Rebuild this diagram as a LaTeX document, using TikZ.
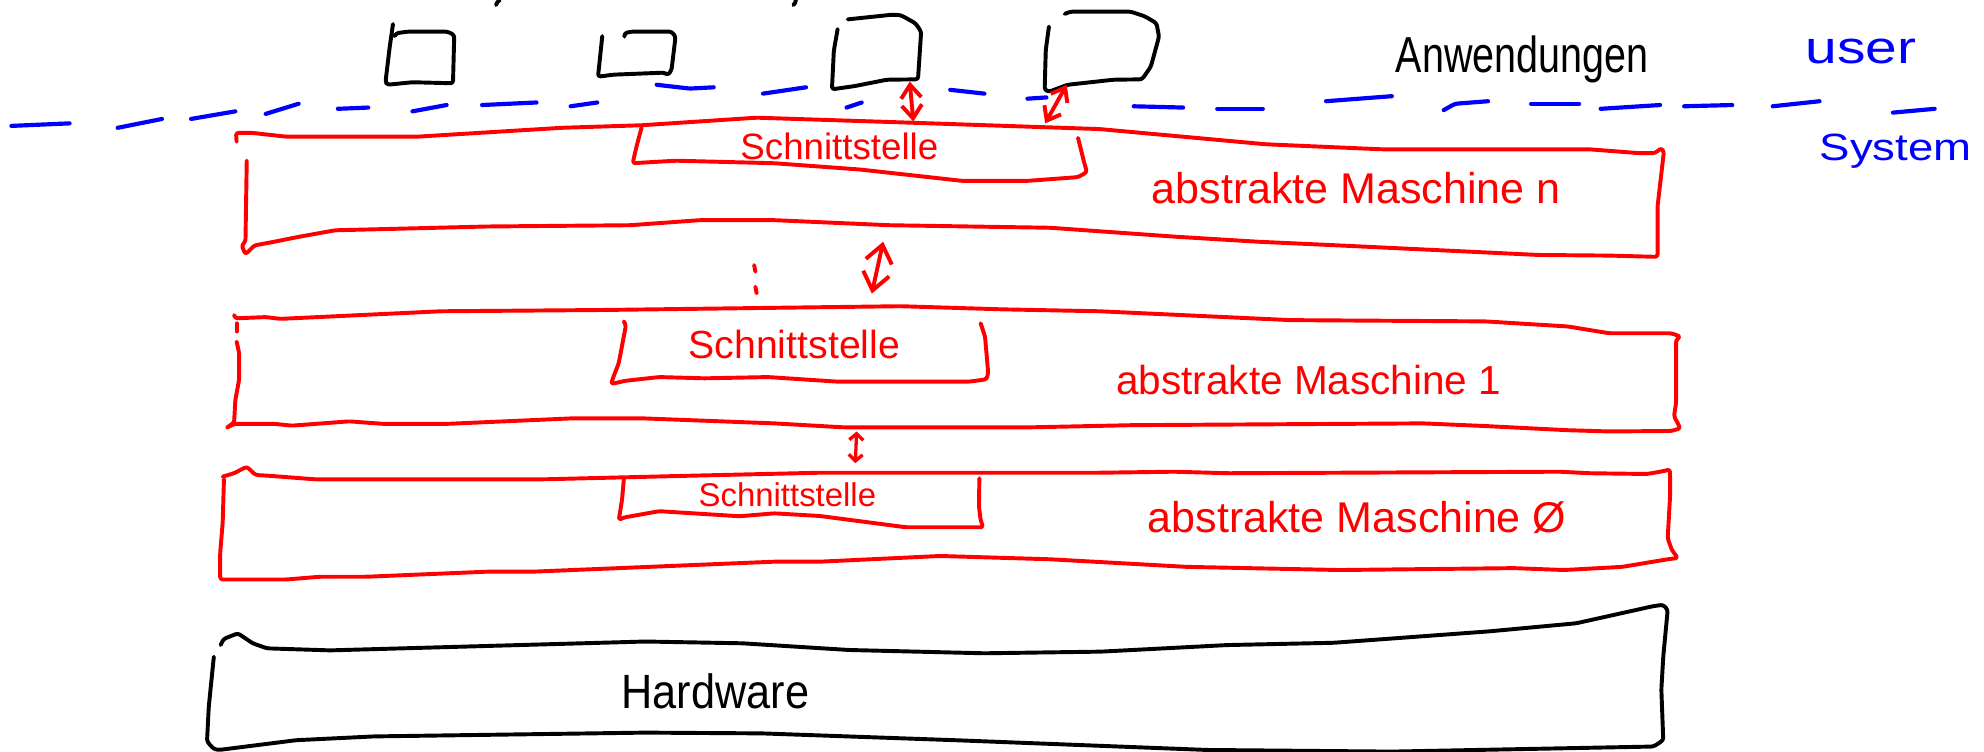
\documentclass[tikz,border=0pt]{standalone}
\usepackage{fontspec}
\setmainfont{Liberation Sans}
\usetikzlibrary{arrows.meta}
\newcommand\hwtxt[3]{\scalebox{#2}[1]{\fontsize{#1}{#1}\selectfont #3}}
\begin{document}
\begin{tikzpicture}[x=1pt,y=-1pt,line cap=round,line join=round,
  pen/.style={line width=3.1pt, rounded corners=2pt},
  redpen/.style={pen,draw=red},
  blackpen/.style={pen,draw=black},
  bluepen/.style={pen,draw=blue,line width=3.3pt},
  dblarrow/.style={line width=3.1pt,draw=red,sharp corners,
    {Straight Barb[length=#1*0.65pt,width=#1pt]}-{Straight Barb[length=#1*0.65pt,width=#1pt]}},
  smallarrow/.style={line width=2.6pt,draw=red,sharp corners,
    {Straight Barb[length=5pt,width=11pt]}-{Straight Barb[length=5pt,width=11pt]}},
  hand/.style={inner sep=0pt,anchor=base west},
  redhand/.style={hand,text=red},
  bluehand/.style={hand,text=blue},
  blackhand/.style={hand,text=black}]
\fill[white] (0,0) rectangle (1568,594.3);
\path[use as bounding box] (0,0) rectangle (1568,594.3);

% parenthesis fragments at the top edge
\draw[blackpen] (395,0) to[bend right=20] (392,4);
\draw[blackpen] (629,0) to[bend left=20] (627,4);

% application windows
\draw[blackpen] (310.6,19) -- (308,37) -- (304.7,64.5) -- (306,67) -- (326,65) -- (358,65.8) -- (359,27.7) -- (353.7,25) -- (322,25) -- (313,26.3) -- (312,28.5);
\draw[blackpen] (476,28.5) -- (472.6,60.6) -- (485,59) -- (525,57.4) -- (528,59.3) -- (530.7,55.3) -- (533.9,29) -- (530.7,25) -- (498.7,25) -- (493.5,26.3) -- (493.5,29);
\draw[blackpen] (662,23) -- (659,40) -- (657.5,70.6) -- (675.7,68) -- (700.8,63) -- (725.5,62.7) -- (728,25) -- (723.5,18.4) -- (712,12) -- (705.4,11.6) -- (670,15.3);
\draw[blackpen] (829,21) -- (826.5,39.5) -- (825.6,71) -- (829,72.5) -- (843.7,67) -- (880,63) -- (902.6,62.7) -- (909.5,52.7) -- (916,29) -- (914,18.4) -- (905,13) -- (893.6,9.2) -- (846,9.2) -- (841.5,11);

% user / system border
\foreach \a/\b/\c/\d in {9/99.5/55/97.5, 93/101/128/94, 151/94/186/88, 210/90/236/82,
  267/86/291/85, 326/88/353/83, 381/83/424/81, 451/84/472/81, 603/74/637/69,
  669/85/681/81, 751/71/778/74, 812/78/827/77, 896/84/935/85, 962/86/998/86,
  1048/80/1100/76, 1210/82/1248/82, 1265/86/1312/83, 1331/84/1369/83,
  1401/84/1438/80, 1496/89/1529/86}
  \draw[bluepen] (\a,\b) -- (\c,\d);
\draw[bluepen] (519,67) -- (545,70) -- (564,69);
\draw[bluepen] (1141,87) -- (1150,82) -- (1176,80);

% abstract machine n
\draw[redpen] (187,112) -- (186.5,105) -- (199,105) -- (226,108) -- (330,108) -- (444,101) -- (507,99) -- (598,93) -- (721,97) -- (869,102) -- (1000,114) -- (1092,118) -- (1256,118) -- (1295,121) -- (1308,121) -- (1313,117) -- (1315,120) -- (1311.5,150) -- (1310,163) -- (1310,203) -- (1272,202) -- (1216,201.5) -- (1059,194) -- (993.5,191) -- (928,187) -- (830,180) -- (703,178) -- (612,174) -- (553,174) -- (498,178) -- (385,179) -- (265,182) -- (237,187) -- (217,191) -- (201,194) -- (194,201) -- (191,194) -- (194,191) -- (195,127);
\draw[redpen] (507,101) -- (503,116) -- (500,129) -- (534,127) -- (612,129) -- (680,134) -- (716,138) -- (761,143) -- (811,143) -- (852,140) -- (859,136) -- (857,129) -- (852,109);

% abstract machine 1
\draw[redpen] (187,262) -- (187,255.5);
\draw[redpen] (185,249) -- (186,251.6) -- (210,250.6) -- (221.6,252) -- (285,249) -- (348.5,246) -- (475.6,245) -- (711.6,242) -- (793,244.5) -- (869,246) -- (1020,253) -- (1173.8,254) -- (1239,258) -- (1272,263.4) -- (1321,263.4) -- (1328,266) -- (1324.6,268.7) -- (1324.6,318.6) -- (1323,329) -- (1326,334.6) -- (1328,338.5) -- (1321,340.6) -- (1272,341) -- (1239,340) -- (1173.8,336.7) -- (1124.6,334.6) -- (895.5,336) -- (815.6,337.7) -- (666,337.7) -- (612,334.6) -- (507,330.6) -- (453,330.6) -- (353,335) -- (303,335) -- (276,333) -- (230.6,336.4) -- (217,335) -- (185,335) -- (178.5,338.5) -- (185,334) -- (186,316) -- (189,300) -- (189,279) -- (187,270);
\draw[redpen] (493,254) -- (494.7,257) -- (489,287) -- (484,300) -- (483,303.5) -- (493.8,301) -- (521,298) -- (557,299) -- (607,298) -- (661.5,301.6) -- (766,301.6) -- (779.6,299.8) -- (781,295) -- (778.5,266) -- (775,255.5);

% abstract machine 0
\draw[redpen] (176,376.7) -- (185,374) -- (195,368.8) -- (202,375.4) -- (212.6,376) -- (248.8,378.8) -- (430,378.8) -- (543.7,376) -- (648,373.6) -- (869,373.6) -- (928,372.8) -- (970.6,374) -- (1233,372.8) -- (1256,374) -- (1301.7,374.6) -- (1314.8,372.3) -- (1319.8,371) -- (1320,390) -- (1318,425.4) -- (1321.3,434.7) -- (1326,441) -- (1318,442) -- (1282,448) -- (1236,450.5) -- (1196.6,449) -- (1059,450.5) -- (938,448) -- (830,442) -- (743,439.4) -- (648,443.9) -- (612,443.9) -- (421,451.8) -- (385,451.8) -- (289.7,455.8) -- (253,455.8) -- (226,458) -- (174,458) -- (174,437) -- (176,413) -- (177,378.6);
\draw[redpen] (493,379) -- (491.6,395) -- (489,411) -- (493,409) -- (521,404) -- (584.5,408) -- (612,405.7) -- (648,407.8) -- (716,416.7) -- (777,416.7) -- (775,411) -- (773.7,400.4) -- (774,378);

% hardware
\draw[blackpen] (174.4,509.8) -- (176.7,505) -- (188,500.5) -- (199.7,508.4) -- (211,512.4) -- (261,514) -- (510,507) -- (586.5,508.4) -- (671,513.7) -- (778,516.3) -- (870,515) -- (970,509.8) -- (1054,508) -- (1176.6,499) -- (1245.6,492.6) -- (1306.8,479) -- (1314.5,478) -- (1318,482) -- (1314.5,519) -- (1313,545) -- (1314.5,585) -- (1306.8,590) -- (1100,594) -- (954,592.7) -- (755,585) -- (602,579.6) -- (510,579) -- (295.6,582) -- (234,585) -- (173,592.7) -- (169,592) -- (163.6,586) -- (165,558.5) -- (169,519);

% colon
\draw[redpen] (596,209.5) -- (597,214.7);
\draw[redpen] (597,226.6) -- (598,231.8);

% connector end points
\coordinate (w3) at (719,64.5);
\coordinate (n3) at (721.8,96);
\coordinate (w4) at (843,67);
\coordinate (n4) at (826,97.5);
\coordinate (nb) at (698,191);
\coordinate (t1) at (689,232);
\coordinate (b1) at (677,341);
\coordinate (t0) at (676,366);

\draw[dblarrow=16] (w3) -- (n3);
\draw[dblarrow=15] (w4) -- (n4);
\draw[dblarrow=21] (nb) -- (t1);
\draw[smallarrow] (b1) -- (t0);

% texts
\node[blackhand] (anw) at (1103,57) {\hwtxt{40}{0.78}{Anwendungen}};
\node[bluehand] (user) at (1427,50) {\hwtxt{36}{1.25}{user}};
\node[bluehand] (sys) at (1438,127) {\hwtxt{30}{1.2}{System}};
\node[redhand] (sn) at (585,126) {\hwtxt{29}{1}{Schnittstelle}};
\node[redhand] (amn) at (910,161) {\hwtxt{34}{1}{abstrakte Maschine n}};
\node[redhand] (s1) at (544,283) {\hwtxt{31}{1}{Schnittstelle}};
\node[redhand] (am1) at (882,312) {\hwtxt{32}{1}{abstrakte Maschine 1}};
\node[redhand] (s0) at (552,400) {\hwtxt{26}{1}{Schnittstelle}};
\node[redhand] (am0) at (907,421) {\hwtxt{34}{1}{abstrakte Maschine Ø}};
\node[blackhand] (hw) at (491,560) {\hwtxt{38}{0.9}{Hardware}};
\end{tikzpicture}
\end{document}
